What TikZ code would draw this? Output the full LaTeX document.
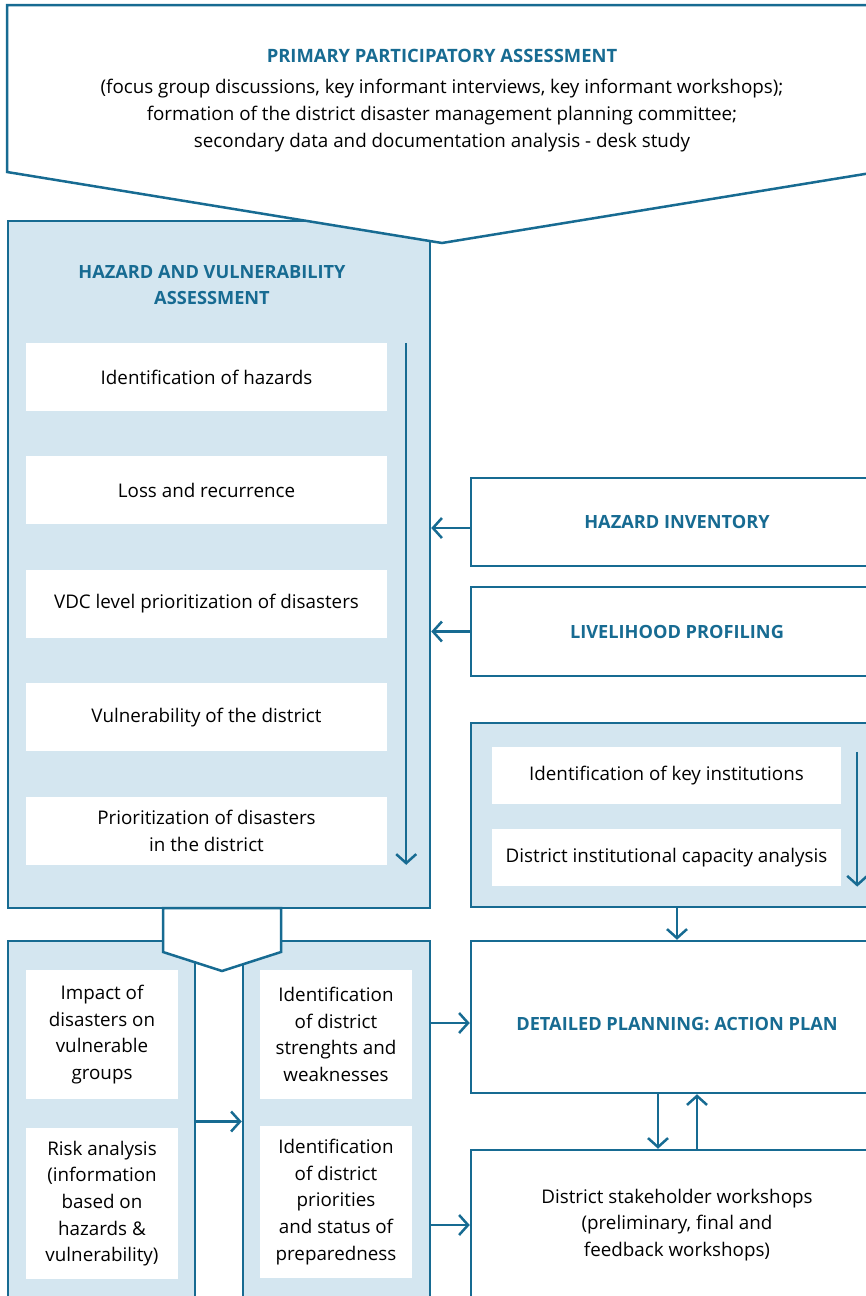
\documentclass[tikz,border=0pt]{standalone}
\usepackage{fontspec}
\setmainfont{Open Sans}
\usetikzlibrary{positioning,arrows.meta}
\definecolor{planBlue}{HTML}{176B92}
\definecolor{planFill}{HTML}{D4E6F0}
\tikzset{
  panel/.style={rectangle, draw=planBlue, fill=planFill, line width=2.5pt, inner sep=0pt},
  frame/.style={rectangle, draw=planBlue, fill=white, line width=2.5pt, inner sep=0pt, align=center},
  task/.style={rectangle, fill=white, inner sep=0pt, align=center},
  heading/.style={font=\bfseries\fontsize{18.2}{26}\selectfont, text=planBlue, align=center},
  flowOp/.style={draw=planBlue, line width=2.5pt, -{Straight Barb[length=9pt, width=20pt, line width=2.5pt]}}
}

\begin{document}
\begin{tikzpicture}[x=1pt, y=-1pt, font=\fontsize{18.8}{26.7}\selectfont, node distance=45pt]
  \useasboundingbox (0,0) rectangle (866,1296);
  \node [panel, minimum width=422pt, minimum height=687pt] (hva) at (219,564.5) {};
  \draw [frame] (7,5) -- (877,5) -- (877,172) -- (442,243) -- (7,172) -- cycle;
  \node [heading, font=\bfseries\fontsize{18.4}{27}\selectfont] (ppaTitle) at (442,56) {PRIMARY PARTICIPATORY ASSESSMENT};
  \node [align=center, font=\fontsize{18.8}{27}\selectfont] (ppaText) at (442,116) {(focus group discussions, key informant interviews, key informant workshops);\\formation of the district disaster management planning committee;\\secondary data and documentation analysis - desk study};

  \node [heading] (hvaTitle) at (212,285) {HAZARD AND VULNERABILITY\\ASSESSMENT};
  \node [task, minimum width=361pt, minimum height=68pt] (idHaz) at (206.5,377) {Identification of hazards};
  \node [task, minimum width=361pt, minimum height=68pt, below=of idHaz] (lossRec) {Loss and recurrence};
  \node [task, minimum width=361pt, minimum height=68pt, below=of lossRec] (vdcPrio) {VDC level prioritization of disasters};
  \node [task, minimum width=361pt, minimum height=68pt, below=of vdcPrio] (vulDis) {Vulnerability of the district};
  \node [task, minimum width=361pt, minimum height=68pt, below=of vulDis] (prioDis) {Prioritization of disasters\\in the district};
  \draw [flowOp] ([xshift=19pt]idHaz.north east) -- ([xshift=19pt]prioDis.south east);

  \node [frame, minimum width=412pt, minimum height=88pt, heading] (hazInv) at (677,522) {HAZARD INVENTORY};
  \node [frame, minimum width=412pt, minimum height=89pt, heading] (livProf) at (677,631.5) {LIVELIHOOD PROFILING};
  \draw [flowOp] ([yshift=-6pt]hazInv.west) -- ([yshift=-6pt]hazInv.west -| hva.east);
  \draw [flowOp] (livProf.west) -- (livProf.west -| hva.east);

  \node [panel, minimum width=412pt, minimum height=184pt] (inst) at (677,815) {};
  \node [task, minimum width=349pt, minimum height=57pt] (keyInst) at (666.5,775.5) {Identification of key institutions};
  \node [task, minimum width=349pt, minimum height=57pt, below=25pt of keyInst] (capAna) {District institutional capacity analysis};
  \draw [flowOp] ([xshift=16pt,yshift=-5pt]keyInst.north east) -- ([xshift=16pt]capAna.south east);

  \node [frame, minimum width=412pt, minimum height=152pt, heading, text height=27pt] (actPlan) at (677,1017) {DETAILED PLANNING: ACTION PLAN};
  \node [frame, minimum width=412pt, minimum height=150pt] (dsw) at (677,1225) {District stakeholder workshops\\(preliminary, final and\\feedback workshops)};
  \draw [flowOp] (inst.south) -- (actPlan.north);
  \draw [flowOp] ([xshift=-19pt]actPlan.south) -- ([xshift=-19pt]dsw.north);
  \draw [flowOp] ([xshift=20pt]dsw.north) -- ([xshift=20pt]actPlan.south);

  \node [panel, minimum width=187pt, minimum height=369pt] (impPan) at (101.5,1125.5) {};
  \node [panel, minimum width=187pt, minimum height=369pt] (disPan) at (336.5,1125.5) {};
  \draw [frame] (163,908) -- (281,908) -- (281,952) -- (222,971) -- (163,952) -- cycle;
  \node [task, minimum width=152pt, minimum height=129pt] (impVul) at (102,1034.5) {Impact of\\disasters on\\vulnerable\\groups};
  \node [task, minimum width=152pt, minimum height=151pt] (riskAna) at (102,1203.5) {Risk analysis\\(information\\based on\\hazards \&\\vulnerability)};
  \node [task, minimum width=152pt, minimum height=129pt] (strWeak) at (336,1034.5) {Identification\\of district\\strenghts and\\weaknesses};
  \node [task, minimum width=152pt, minimum height=152pt] (prioStat) at (336,1202) {Identification\\of district\\priorities\\and status of\\preparedness};
  \draw [flowOp] ([yshift=4pt]impPan.east) -- ([yshift=4pt]disPan.west);
  \draw [flowOp] ([yshift=-6pt]disPan.east |- actPlan.west) -- ([yshift=-6pt]actPlan.west);
  \draw [flowOp] (disPan.east |- dsw.west) -- (dsw.west);
\end{tikzpicture}
\end{document}
